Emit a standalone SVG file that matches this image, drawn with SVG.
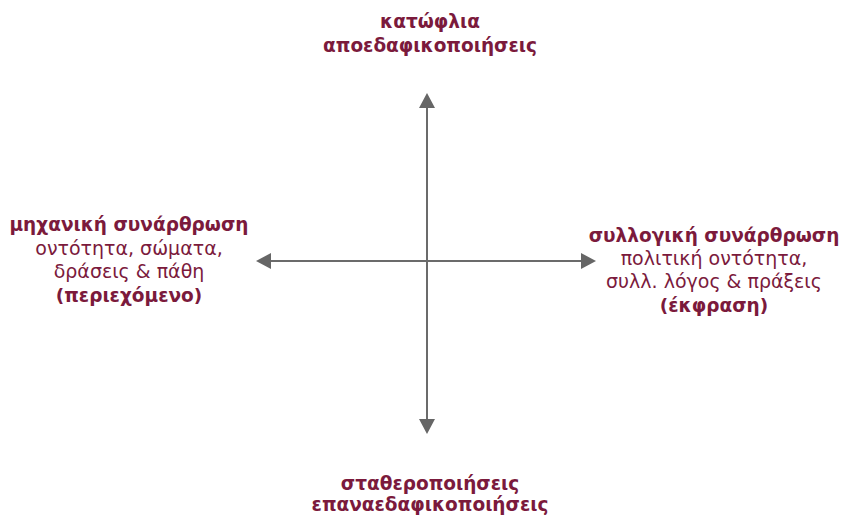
<svg xmlns="http://www.w3.org/2000/svg" width="846" height="517" viewBox="0 0 846 517">
<defs>
<style>
text{font-family:"DejaVu Sans","Noto Sans",sans-serif;fill:#7b1a3c;font-size:19px;text-anchor:middle}
.b{font-weight:bold;font-size:18.5px}
.ax{stroke:#6b6b6b;stroke-width:2;fill:none}
.hd{fill:#666}
</style>
</defs>
<rect width="846" height="517" fill="#fff"/>
<g id="connectors">
<path class="ax" d="M427,261 L427,108"/>
<path class="hd" d="M427,93 L435,108 L419,108 z"/>
<path class="ax" d="M427,261 L427,419"/>
<path class="hd" d="M427,434 L435,419 L419,419 z"/>
<path class="ax" d="M427,261 L271,261"/>
<path class="hd" d="M256,261 L271,253 L271,269 z"/>
<path class="ax" d="M427,261 L581,261"/>
<path class="hd" d="M596,261 L581,253 L581,269 z"/>
</g>
<g id="top">
<text class="b" x="430" y="28">κατώφλια</text>
<text class="b" x="430" y="52">αποεδαφικοποιήσεις</text>
</g>
<g id="left">
<text class="b" x="129" y="231">μηχανική συνάρθρωση</text>
<text x="129" y="255">οντότητα, σώματα,</text>
<text x="129" y="278">δράσεις &amp; πάθη</text>
<text class="b" x="129" y="302">(περιεχόμενο)</text>
</g>
<g id="right">
<text class="b" x="714" y="242">συλλογική συνάρθρωση</text>
<text x="714" y="265">πολιτική οντότητα,</text>
<text x="714" y="288">συλλ. λόγος &amp; πράξεις</text>
<text class="b" x="714" y="312">(έκφραση)</text>
</g>
<g id="bottom">
<text class="b" x="430" y="490">σταθεροποιήσεις</text>
<text class="b" x="430" y="511">επαναεδαφικοποιήσεις</text>
</g>
</svg>
